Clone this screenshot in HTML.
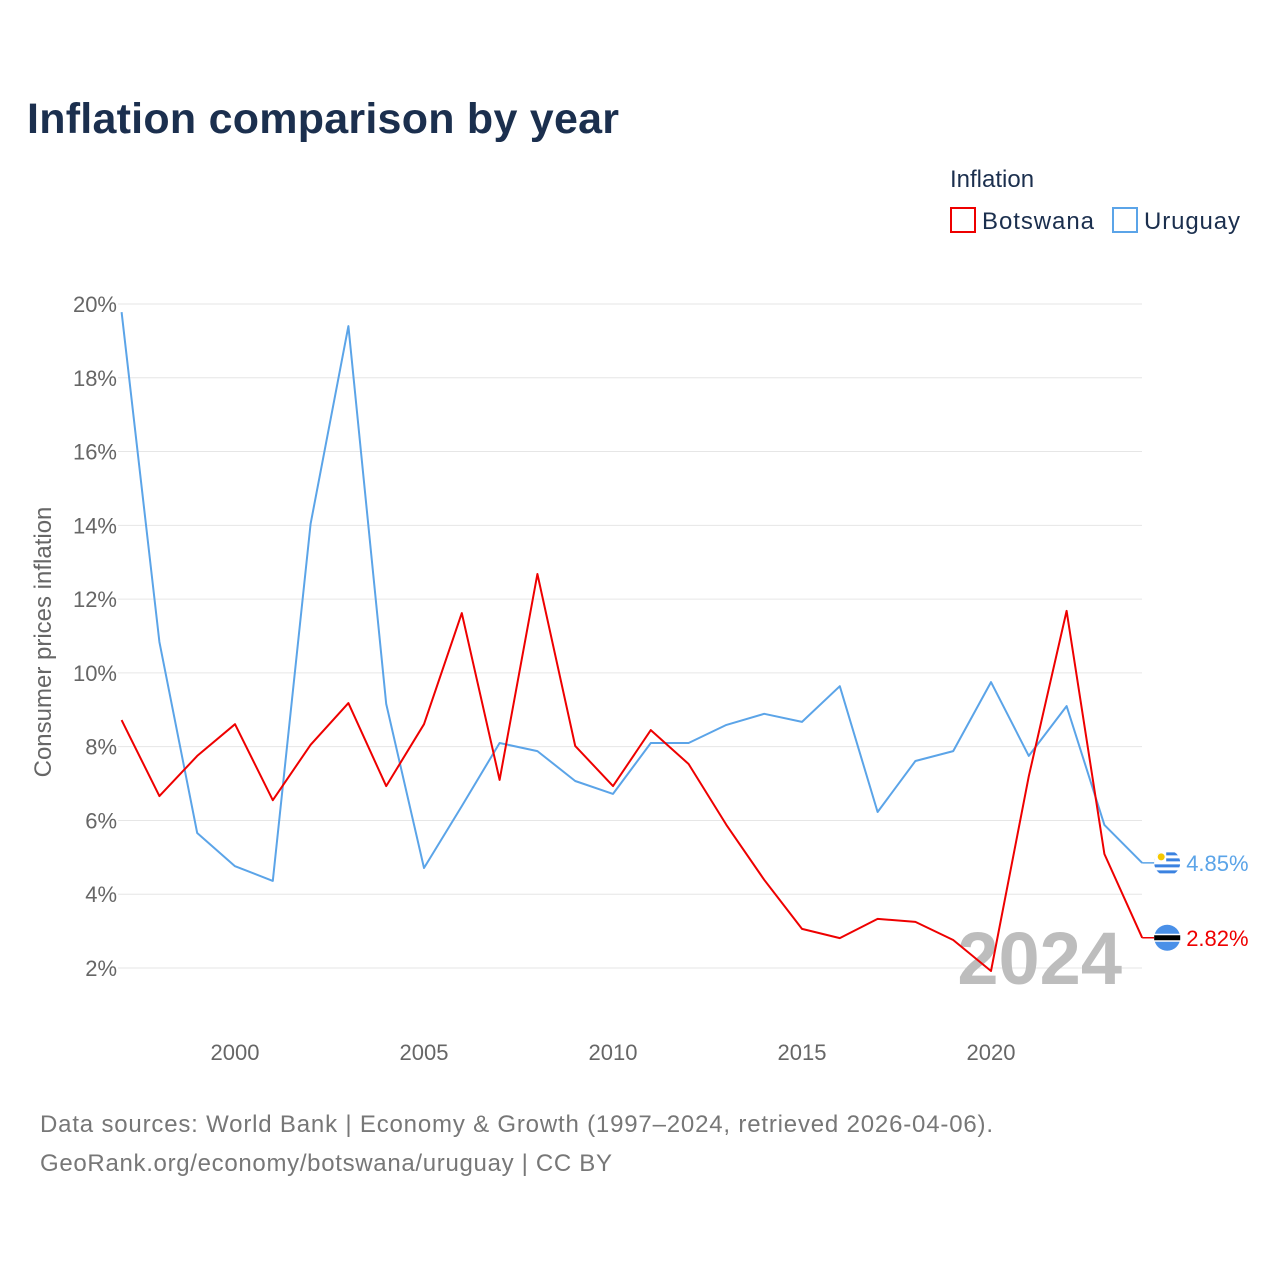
<!DOCTYPE html>
<html><head><meta charset="utf-8"><style>
body{margin:0;background:#fff;width:1280px;height:1280px;overflow:hidden;font-family:"Liberation Sans",sans-serif}
</style></head><body>
<svg id="chart" width="1280" height="1280" xmlns="http://www.w3.org/2000/svg" font-family="Liberation Sans, sans-serif">
<defs><clipPath id="uyclip"><circle id="uyc" cx="0" cy="0" r="13"/></clipPath></defs>
<text x="27" y="133" font-size="43" font-weight="bold" fill="#1b2f4e" textLength="592">Inflation comparison by year</text>
<text x="950" y="187" font-size="24" fill="#1b2f4e">Inflation</text>
<g><rect x="951" y="208" width="24" height="24" fill="none" stroke="#ee0000" stroke-width="2"/><text x="982" y="229" font-size="24" fill="#1b2f4e" textLength="112">Botswana</text></g>
<g><rect x="1113" y="208" width="24" height="24" fill="none" stroke="#5ba4e8" stroke-width="2"/><text x="1144" y="229" font-size="24" fill="#1b2f4e" textLength="96">Uruguay</text></g>
<g id="grid"></g>
<text x="1122" y="984" font-size="74" font-weight="bold" fill="#bdbdbd" text-anchor="end">2024</text>
<g id="series"></g>
<text transform="translate(51,642) rotate(-90)" font-size="24" fill="#666" text-anchor="middle">Consumer prices inflation</text>
<text x="40" y="1132" font-size="24" fill="#777" textLength="953">Data sources: World Bank | Economy &amp; Growth (1997–2024, retrieved 2026-04-06).</text>
<text x="40" y="1171" font-size="24" fill="#777" textLength="572">GeoRank.org/economy/botswana/uruguay | CC BY</text>
</svg>
<script>
const years=[1997,1998,1999,2000,2001,2002,2003,2004,2005,2006,2007,2008,2009,2010,2011,2012,2013,2014,2015,2016,2017,2018,2019,2020,2021,2022,2023,2024];
const botswana=[8.72,6.66,7.75,8.61,6.55,8.05,9.18,6.93,8.61,11.62,7.10,12.68,8.02,6.93,8.45,7.53,5.88,4.39,3.06,2.81,3.33,3.25,2.76,1.92,7.2,11.68,5.09,2.82];
const uruguay=[19.78,10.84,5.66,4.76,4.36,14.04,19.40,9.16,4.71,6.39,8.10,7.88,7.07,6.72,8.10,8.10,8.59,8.89,8.67,9.64,6.23,7.61,7.88,9.75,7.75,9.10,5.88,4.85];
const yTicks=[2,4,6,8,10,12,14,16,18,20];
const xTicks=[2000,2005,2010,2015,2020];
const NS="http://www.w3.org/2000/svg";
const xs=y=>121.6+(y-1997)*37.8;
const ys=v=>968-(v-2)*36.89;
const grid=document.getElementById('grid'),ser=document.getElementById('series');
function mk(tag,attrs,parent){const e=document.createElementNS(NS,tag);for(const k in attrs)e.setAttribute(k,attrs[k]);parent.appendChild(e);return e;}
yTicks.forEach(t=>{
 const l=mk('line',{x1:118,x2:1142,y1:ys(t),y2:ys(t),stroke:'#e6e6e6','stroke-width':1},grid);
 
 
 const tx=mk('text',{x:117,y:ys(t)+8,'font-size':22,fill:'#666','text-anchor':'end'},grid);
 tx.textContent=t+'%';
 
 
});
xTicks.forEach(t=>{
 const tx=mk('text',{x:xs(t),y:1060,'font-size':22,fill:'#666','text-anchor':'middle'},grid);
 tx.textContent=t;
 
 
});
function series(vals,color,name,flag){
 const d=vals.map((v,i)=>(i?'L':'M')+xs(years[i]).toFixed(1)+' '+ys(vals[i]).toFixed(1)).join(' ');
 const p=mk('path',{d:d,fill:'none',stroke:color,'stroke-width':2,'stroke-linejoin':'round'},ser);
 
 
 const lv=vals[vals.length-1],ly=ys(lv),lx=xs(years[years.length-1]);
 mk('line',{x1:lx,x2:lx+12,y1:ly,y2:ly,stroke:color,'stroke-width':1.5},ser);
 const g=mk('g',{},ser);
 
 
 if(flag==='bw'){mk('circle',{cx:lx+25,cy:ly,r:13,fill:'#4a90e8'},g);mk('rect',{x:lx+12,y:ly-4,width:26,height:8,fill:'#fff'},g);mk('rect',{x:lx+12,y:ly-2.5,width:26,height:5,fill:'#000'},g);}
 else{
  const uc=document.getElementById('uyc');uc.setAttribute('cx',lx+25);uc.setAttribute('cy',ly);
  const cg=mk('g',{'clip-path':'url(#uyclip)'},g);
  mk('circle',{cx:lx+25,cy:ly,r:13,fill:'#fff'},cg);
  [-9,-3,3,9].forEach(o=>mk('rect',{x:lx+12,y:ly+o-1.5,width:26,height:3,fill:'#3b82e0'},cg));
  mk('rect',{x:lx+12,y:ly-13,width:12,height:12,fill:'#fff'},cg);
  mk('circle',{cx:lx+19,cy:ly-6,r:3.5,fill:'#f5c800'},cg);
 }
 const t=mk('text',{x:lx+44,y:ly+8,'font-size':22,fill:color},ser);
 t.textContent=lv.toFixed(2)+'%';
 
 
}
series(uruguay,'#5ba4e8','uruguay','uy');
series(botswana,'#ee0000','botswana','bw');
</script>
</body></html>
